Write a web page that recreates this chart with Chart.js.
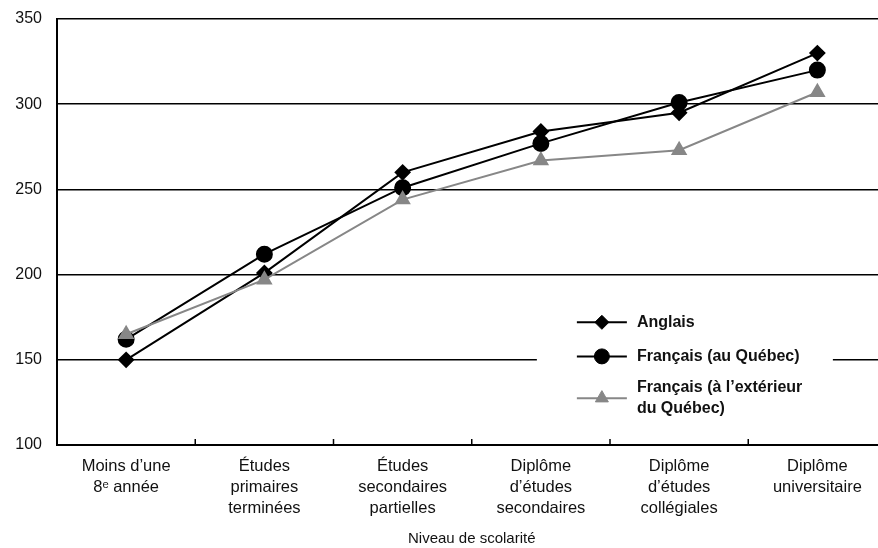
<!DOCTYPE html>
<html>
<head>
<meta charset="utf-8">
<script src="https://cdn.jsdelivr.net/npm/chart.js@4/dist/chart.umd.min.js"></script>
<style>
  html, body { margin: 0; padding: 0; background: #fff; overflow: hidden; }
  #wrap { width: 896px; height: 548px; }
</style>
</head>
<body>
<div id="wrap"><canvas id="c" width="896" height="548"></canvas></div>
<script>
// Education levels (x categories)
const categories = [
  ['Moins d’une', '8ᵉ année'],
  ['Études', 'primaires', 'terminées'],
  ['Études', 'secondaires', 'partielles'],
  ['Diplôme', 'd’études', 'secondaires'],
  ['Diplôme', 'd’études', 'collégiales'],
  ['Diplôme', 'universitaire']
];

// Mean scores by language group
const anglais        = [150, 201, 260, 284, 295, 330];
const francaisQuebec = [162, 212, 251, 277, 301, 320];
const francaisHorsQc = [165, 197, 244, 267, 273, 307];

const seriesNames = ['Anglais', 'Français (au Québec)', ['Français (à l’extérieur', 'du Québec)']];
const yTicks = [100, 150, 200, 250, 300, 350];
const xTitle = 'Niveau de scolarité';

const FONT = "'Liberation Sans', Arial, sans-serif";
const GREY = '#878787';

// Legend drawn inside the plot on a white panel
const insetLegend = {
  id: 'insetLegend',
  afterDatasetsDraw(chart) {
    const { ctx, scales: { x, y } } = chart;
    const xA = x.getPixelForValue(3);
    const left = xA - 4;
    const top = y.getPixelForValue(185);
    const bottom = y.getPixelForValue(112);
    ctx.save();
    ctx.fillStyle = '#fff';
    ctx.fillRect(left, top, 296, bottom - top);
    const lineX0 = left + 40, lineX1 = left + 90, textX = left + 100;
    const rows = [
      { y: y.getPixelForValue(172), ds: 0, lines: [seriesNames[0]] },
      { y: y.getPixelForValue(152), ds: 1, lines: [seriesNames[1]] },
      { y: y.getPixelForValue(127.5), ds: 2, lines: seriesNames[2] }
    ];
    rows.forEach(r => {
      const d = chart.data.datasets[r.ds];
      ctx.strokeStyle = d.borderColor;
      ctx.fillStyle = d.borderColor;
      ctx.lineWidth = 2;
      ctx.beginPath(); ctx.moveTo(lineX0, r.y); ctx.lineTo(lineX1, r.y); ctx.stroke();
      ctx.lineWidth = 1;
      Chart.helpers.drawPoint(ctx, {
        pointStyle: d.pointStyle, radius: d.pointRadius, borderWidth: 1
      }, (lineX0 + lineX1) / 2, r.y);
      ctx.fillStyle = '#111';
      ctx.font = 'bold 16px ' + FONT;
      ctx.textBaseline = 'middle';
      ctx.textAlign = 'left';
      const lh = 21;
      const y0 = r.y - (r.lines.length - 1) * lh / 2;
      r.lines.forEach((t, i) => ctx.fillText(t, textX, y0 + i * lh));
    });
    ctx.restore();
  }
};

// Small upward tick marks between categories on the x axis
const catTicks = {
  id: 'catTicks',
  afterDraw(chart) {
    const { ctx, scales: { x }, chartArea } = chart;
    ctx.save();
    ctx.strokeStyle = '#000';
    ctx.lineWidth = 1.5;
    for (let i = 0; i < categories.length - 1; i++) {
      const px = (x.getPixelForValue(i) + x.getPixelForValue(i + 1)) / 2;
      ctx.beginPath();
      ctx.moveTo(px, chartArea.bottom);
      ctx.lineTo(px, chartArea.bottom - 6);
      ctx.stroke();
    }
    ctx.restore();
  }
};

function ds(label, data, color, style, order) {
  return {
    label, data, order,
    borderColor: color, backgroundColor: color,
    pointBackgroundColor: color, pointBorderColor: color,
    borderWidth: 2, pointStyle: style, pointRadius: style === 'rectRot' ? 7 : 7.5,
    pointHoverRadius: 7, tension: 0, fill: false
  };
}

new Chart(document.getElementById('c'), {
  type: 'line',
  data: {
    labels: categories,
    datasets: [
      ds('Anglais', anglais, '#000', 'rectRot', 2),
      ds('Français (au Québec)', francaisQuebec, '#000', 'circle', 1),
      ds('Français (à l’extérieur du Québec)', francaisHorsQc, GREY, 'triangle', 0)
    ]
  },
  options: {
    responsive: false,
    animation: false,
    layout: { padding: { top: 19, right: 6, left: 0, bottom: 0 } },
    plugins: { legend: { display: false }, tooltip: { enabled: false } },
    scales: {
      x: {
        offset: true,
        grid: { display: false },
        border: { display: true, color: '#000', width: 2 },
        ticks: { color: '#111', font: { family: FONT, size: 16.5, lineHeight: 1.27 }, padding: 3, maxRotation: 0, autoSkip: false },
        title: { display: true, text: xTitle, color: '#111', font: { family: FONT, size: 15 }, padding: { top: 0, bottom: 0 } },
        afterFit(s) { s.height = 103; s.paddingLeft = 0; s.paddingRight = 0; }
      },
      y: {
        min: yTicks[0], max: yTicks[yTicks.length - 1],
        afterBuildTicks(s) { s.ticks = yTicks.map(v => ({ value: v })); },
        grid: { color: '#000', lineWidth: 1.6, drawTicks: false },
        border: { display: true, color: '#000', width: 2 },
        ticks: { color: '#111', font: { family: FONT, size: 16 }, padding: 15 },
        afterFit(s) { s.width = 57; s.paddingTop = 0; s.paddingBottom = 0; }
      }
    }
  },
  plugins: [insetLegend, catTicks]
});
</script>
</body>
</html>
